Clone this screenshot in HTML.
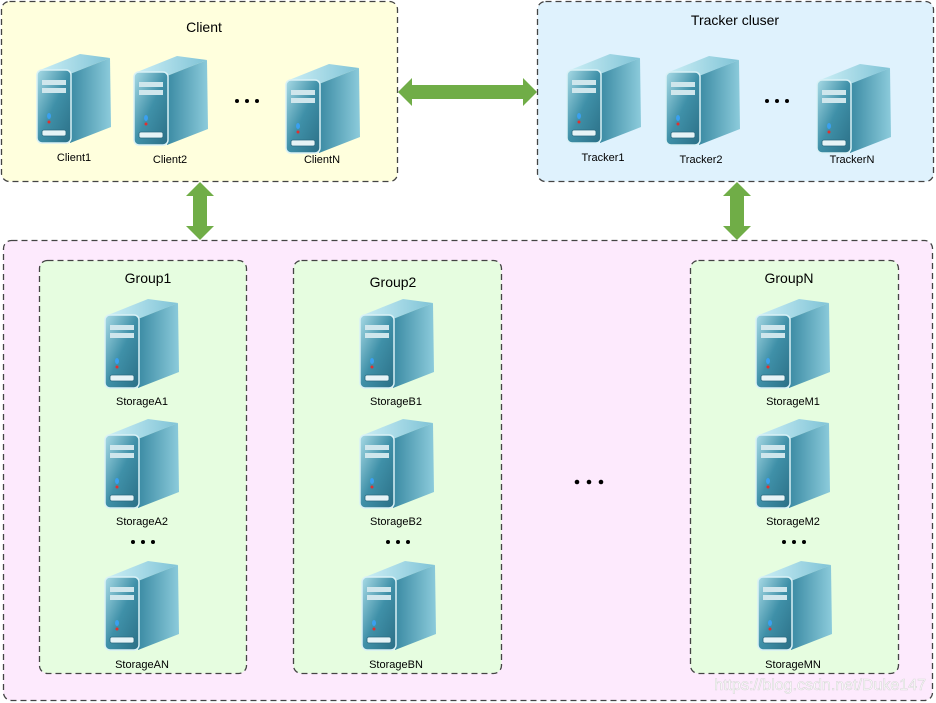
<!DOCTYPE html>
<html><head><meta charset="utf-8"><style>
body{margin:0;background:#fff;width:936px;height:703px;position:relative;overflow:hidden;font-family:"Liberation Sans","DejaVu Sans",sans-serif}
</style></head><body>
<svg width="936" height="703" viewBox="0 0 936 703" xmlns="http://www.w3.org/2000/svg" style="position:absolute;left:0;top:0">
<defs>
<linearGradient id="fr" x1="0" y1="0" x2="1" y2="1"><stop offset="0" stop-color="#a9dbe6"/><stop offset="0.5" stop-color="#3f90a8"/><stop offset="1" stop-color="#2b6f86"/></linearGradient>
<linearGradient id="sd" x1="0" y1="0" x2="1" y2="0"><stop offset="0" stop-color="#3a8aa3"/><stop offset="1" stop-color="#8ccbdb"/></linearGradient>
<linearGradient id="tp" x1="0" y1="0" x2="1" y2="0"><stop offset="0" stop-color="#cbeef5"/><stop offset="1" stop-color="#7fc3d6"/></linearGradient>
<g id="srv">
<polygon points="4,17 34,21 74,5 44,1" fill="url(#tp)"/>
<polygon points="34,21 74,5 75,74 34,90" fill="url(#sd)"/>
<rect x="1" y="17" width="34" height="73" rx="5" fill="url(#fr)" stroke="#d9f1f6" stroke-width="1.5"/>
<rect x="6" y="27" width="24" height="5" fill="#cfe6ec"/>
<rect x="6" y="35" width="24" height="5" fill="#cfe6ec"/>
<ellipse cx="13" cy="63" rx="2" ry="3" fill="#3aa0f0"/>
<circle cx="13" cy="69" r="1.5" fill="#e03030"/>
<rect x="6" y="77" width="24" height="6" rx="2" fill="#e6f3f6" stroke="#2a6a80" stroke-width="0.8"/>
</g>
</defs>
<g stroke="#444" stroke-width="1.3" stroke-dasharray="6,4">
<rect x="1.5" y="1.5" width="396" height="180" rx="8" fill="#ffffdd"/>
<rect x="537.5" y="1.5" width="396" height="180" rx="8" fill="#dff2fd"/>
<rect x="3.5" y="240.5" width="929" height="460" rx="8" fill="#fdeafd"/>
<rect x="39.5" y="260.5" width="207" height="413" rx="8" fill="#e6fde0"/>
<rect x="293.5" y="260.5" width="208" height="413" rx="8" fill="#e6fde0"/>
<rect x="690.5" y="260.5" width="208" height="413" rx="8" fill="#e6fde0"/>
</g>
<g fill="#70ad47">
<polygon points="398,92 412,78 412,85 523,85 523,78 537,92 523,106 523,99 412,99 412,106"/>
<polygon points="200,182 214,196 207,196 207,226 214,226 200,240 186,226 193,226 193,196 186,196"/>
<polygon points="737,182 751,196 744,196 744,226 751,226 737,240 723,226 730,226 730,196 723,196"/>
</g>
<use href="#srv" x="36" y="53"/><use href="#srv" x="133" y="55"/><use href="#srv" x="285" y="63"/>
<use href="#srv" x="566" y="53"/><use href="#srv" x="665" y="55"/><use href="#srv" x="816" y="63"/>
<use href="#srv" x="104" y="298"/><use href="#srv" x="104" y="418"/><use href="#srv" x="104" y="560"/>
<use href="#srv" x="359" y="298"/><use href="#srv" x="359" y="418"/><use href="#srv" x="361" y="560"/>
<use href="#srv" x="755" y="298"/><use href="#srv" x="755" y="418"/><use href="#srv" x="757" y="560"/>
<g font-size="11" text-anchor="middle" fill="#000">
<text x="74" y="161">Client1</text><text x="170" y="163">Client2</text><text x="322" y="163">ClientN</text>
<text x="603" y="161">Tracker1</text><text x="701" y="163">Tracker2</text><text x="852" y="163">TrackerN</text>
<text x="142" y="405">StorageA1</text><text x="142" y="525">StorageA2</text><text x="142" y="668">StorageAN</text>
<text x="396" y="405">StorageB1</text><text x="396" y="525">StorageB2</text><text x="396" y="668">StorageBN</text>
<text x="793" y="405">StorageM1</text><text x="793" y="525">StorageM2</text><text x="793" y="668">StorageMN</text>
</g>
<g font-size="14" text-anchor="middle" fill="#000">
<text x="204" y="32">Client</text><text x="735" y="25">Tracker cluser</text>
<text x="148" y="283">Group1</text><text x="393" y="287">Group2</text><text x="789" y="283">GroupN</text>
</g>
<g fill="#000">
<circle cx="237" cy="101" r="2"/><circle cx="247" cy="101" r="2"/><circle cx="257" cy="101" r="2"/>
<circle cx="767" cy="101" r="2"/><circle cx="777" cy="101" r="2"/><circle cx="787" cy="101" r="2"/>
<circle cx="133" cy="542" r="2"/><circle cx="143" cy="542" r="2"/><circle cx="153" cy="542" r="2"/>
<circle cx="388" cy="542" r="2"/><circle cx="398" cy="542" r="2"/><circle cx="408" cy="542" r="2"/>
<circle cx="784" cy="542" r="2"/><circle cx="794" cy="542" r="2"/><circle cx="804" cy="542" r="2"/>
<circle cx="577" cy="482" r="2.3"/><circle cx="589" cy="482" r="2.3"/><circle cx="601" cy="482" r="2.3"/>
</g>
<text x="926" y="690" font-size="16" text-anchor="end" fill="#ffffff" stroke="#d8d8d8" stroke-width="0.6">https://blog.csdn.net/Duke147</text>
</svg>
</body></html>
